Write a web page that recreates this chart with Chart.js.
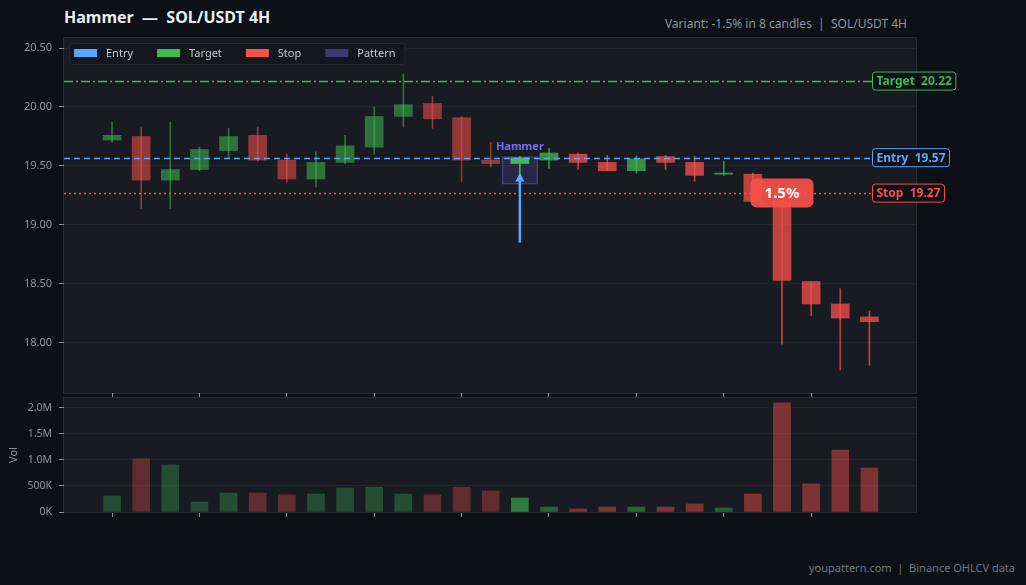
<!DOCTYPE html>
<html>
<head>
<meta charset="utf-8">
<script src="https://cdn.jsdelivr.net/npm/chart.js@4.4.1/dist/chart.umd.min.js"></script>
<style>
  html, body { margin: 0; padding: 0; background: #0d1017; width: 1026px; height: 585px; overflow: hidden; font-family: "Noto Sans", sans-serif; }
  #title { position: absolute; left: 64px; top: 6px; color: #e6edf3; font-size: 16px; font-weight: 700; white-space: pre; }
  #sub { position: absolute; right: 119px; top: 15px; color: #8b949e; font-size: 12px; white-space: pre; }
  #foot { position: absolute; right: 11px; top: 560px; color: #6e7681; font-size: 11px; white-space: pre; }
  #priceBox { position: absolute; left: 0; top: 0; width: 1026px; height: 398px; }
  #volBox { position: absolute; left: 0; top: 396px; width: 1026px; height: 122px; }
</style>
</head>
<body>
<div id="title">Hammer  —  SOL/USDT 4H</div>
<div id="sub">Variant: -1.5% in 8 candles  |  SOL/USDT 4H</div>
<div id="priceBox"><canvas id="price-chart"></canvas></div>
<div id="volBox"><canvas id="vol-chart"></canvas></div>
<div id="foot">youpattern.com  |  Binance OHLCV data</div>
<script>
// candles (index 0..26)
const opens  = [19.72, 19.75, 19.38, 19.47, 19.63, 19.76, 19.55, 19.39, 19.53, 19.66, 19.92, 20.03, 19.91, 19.55,
                19.52, 19.55, 19.60, 19.53, 19.46, 19.58, 19.53, 19.43, 19.43, 19.20, 18.52, 18.33, 18.22];
const highs  = [19.87, 19.83, 19.87, 19.66, 19.82, 19.83, 19.60, 19.62, 19.76, 20.00, 20.28, 20.09, 19.92, 19.70,
                19.58, 19.65, 19.61, 19.59, 19.585, 19.59, 19.58, 19.54, 19.44, 19.22, 18.52, 18.46, 18.27];
const lows   = [19.70, 19.14, 19.14, 19.46, 19.57, 19.54, 19.36, 19.32, 19.52, 19.60, 19.83, 19.82, 19.37, 19.49,
                19.37, 19.48, 19.47, 19.46, 19.44, 19.47, 19.37, 19.42, 19.19, 17.99, 18.23, 17.77, 17.81];
const closes = [19.76, 19.38, 19.47, 19.64, 19.75, 19.55, 19.39, 19.53, 19.67, 19.92, 20.02, 19.90, 19.55, 19.52,
                19.57, 19.61, 19.53, 19.46, 19.56, 19.53, 19.42, 19.44, 19.20, 18.53, 18.33, 18.21, 18.18];
const volumes = [310000, 1020000, 905000, 190000, 365000, 365000, 330000, 345000, 460000, 480000, 345000, 330000,
                 480000, 405000, 270000, 96000, 58000, 96000, 96000, 96000, 155000, 77000, 345000, 2100000,
                 540000, 1190000, 845000];

const xTicks = [0, 3, 6, 9, 12, 15, 18, 21, 24];
const priceTicks = [18.0, 18.5, 19.0, 19.5, 20.0, 20.5];
const volTicks = [0, 500000, 1000000, 1500000, 2000000];

const entryPrice = 19.57;
const targetPrice = 20.22;
const stopPrice = 19.27;
const patternIndex = 14;
const patternName = "Hammer";
const patternRange = [19.345, 19.58];
const arrowRange = [18.85, 19.445];
const badgeIndex = 23;
const badgeText = "1.5%";

const GREEN = [63, 185, 80];
const RED = [248, 81, 73];
const BLUE = "#58a6ff";
const FONT = '"Noto Sans", sans-serif';

function rgba(c, a) {
  return `rgba(${c[0]},${c[1]},${c[2]},${a})`;
}

function candleColor(i) {
  const base = closes[i] >= opens[i] ? GREEN : RED;
  if (i === patternIndex) return rgba(base, 1);
  return rgba(base, i < patternIndex ? 0.55 : 0.75);
}

function volColor(i) {
  const base = closes[i] >= opens[i] ? GREEN : RED;
  if (i === patternIndex) return rgba(base, 0.6);
  return rgba(base, i < patternIndex ? 0.32 : 0.45);
}

const idx = opens.map((_, i) => i);
const bodyData = idx.map((i) => ({ x: i, y: [opens[i], closes[i]] }));
const wickData = idx.map((i) => ({ x: i, y: [lows[i], highs[i]] }));
const volData = idx.map((i) => ({ x: i, y: volumes[i] }));

function roundRect(ctx, x, y, w, h, r) {
  ctx.beginPath();
  ctx.moveTo(x + r, y);
  ctx.arcTo(x + w, y, x + w, y + h, r);
  ctx.arcTo(x + w, y + h, x, y + h, r);
  ctx.arcTo(x, y + h, x, y, r);
  ctx.arcTo(x, y, x + w, y, r);
  ctx.closePath();
}

// no extra room for edge labels, the plot area is set by padding/afterFit only
function noPad(s) {
  s.paddingTop = 0;
  s.paddingBottom = 0;
  s.paddingLeft = 0;
  s.paddingRight = 0;
}

const panelBg = {
  id: "panelBg",
  beforeDraw(chart) {
    const { ctx, chartArea: a } = chart;
    ctx.save();
    ctx.fillStyle = "#181b22";
    ctx.fillRect(a.left, a.top, a.right - a.left, a.bottom - a.top);
    ctx.strokeStyle = "#262b34";
    ctx.lineWidth = 1;
    ctx.strokeRect(a.left - 0.5, a.top - 0.5, a.right - a.left + 1, a.bottom - a.top + 1);
    ctx.restore();
  },
};

const levelsPlugin = {
  id: "levels",
  afterDatasetsDraw(chart) {
    const { ctx, chartArea: a } = chart;
    const x = chart.scales.x;
    const y = chart.scales.y;
    const labelX = a.right - 44;

    const levels = [
      { name: "Target", price: targetPrice, color: rgba(GREEN, 1), dash: [9, 3, 2, 3] },
      { name: "Entry", price: entryPrice, color: BLUE, dash: [6, 4] },
      { name: "Stop", price: stopPrice, color: rgba(RED, 1), dash: [2, 3] },
    ];

    ctx.save();
    levels.forEach((lv) => {
      const py = Math.round(y.getPixelForValue(lv.price)) + 0.5;
      ctx.strokeStyle = lv.color;
      ctx.lineWidth = 1.6;
      ctx.setLineDash(lv.dash);
      ctx.beginPath();
      ctx.moveTo(a.left, py);
      ctx.lineTo(labelX, py);
      ctx.stroke();
    });
    ctx.setLineDash([]);

    // arrow under the pattern
    const ax = x.getPixelForValue(patternIndex);
    const tail = y.getPixelForValue(arrowRange[0]);
    const tip = y.getPixelForValue(arrowRange[1]);
    ctx.strokeStyle = BLUE;
    ctx.fillStyle = BLUE;
    ctx.lineWidth = 2.5;
    ctx.beginPath();
    ctx.moveTo(ax, tail);
    ctx.lineTo(ax, tip + 8);
    ctx.stroke();
    ctx.beginPath();
    ctx.moveTo(ax, tip);
    ctx.lineTo(ax - 4.5, tip + 9);
    ctx.lineTo(ax + 4.5, tip + 9);
    ctx.closePath();
    ctx.fill();

    // pattern name
    ctx.fillStyle = "#7b6cf0";
    ctx.font = `bold 11px ${FONT}`;
    ctx.textAlign = "center";
    ctx.textBaseline = "alphabetic";
    ctx.fillText(patternName, ax, y.getPixelForValue(patternRange[1]) - 7);

    // level tags on the right
    levels.forEach((lv) => {
      const py = y.getPixelForValue(lv.price);
      const txt = `${lv.name}  ${lv.price.toFixed(2)}`;
      ctx.font = `bold 12px ${FONT}`;
      const tw = ctx.measureText(txt).width;
      roundRect(ctx, labelX + 0.5, py - 9, tw + 8, 18, 3);
      ctx.fillStyle = "#0d1017";
      ctx.fill();
      ctx.strokeStyle = lv.color;
      ctx.lineWidth = 1;
      ctx.stroke();
      ctx.fillStyle = lv.color;
      ctx.textAlign = "left";
      ctx.textBaseline = "middle";
      ctx.fillText(txt, labelX + 4.5, py + 0.5);
    });

    // move badge
    const bx = x.getPixelForValue(badgeIndex);
    const by = y.getPixelForValue(stopPrice);
    ctx.font = `bold 15px ${FONT}`;
    const bw = ctx.measureText(badgeText).width + 28;
    roundRect(ctx, bx - bw / 2, by - 14.5, bw, 29, 6);
    ctx.fillStyle = rgba(RED, 0.93);
    ctx.fill();
    ctx.fillStyle = "#ffffff";
    ctx.textAlign = "center";
    ctx.textBaseline = "middle";
    ctx.fillText(badgeText, bx, by + 0.5);

    // legend
    const items = [
      ["Entry", BLUE],
      ["Target", rgba(GREEN, 1)],
      ["Stop", rgba(RED, 1)],
      ["Pattern", "#3d3a7a"],
    ];
    ctx.font = `11px ${FONT}`;
    let lx = a.left + 10;
    const widths = items.map((it) => ctx.measureText(it[0]).width);
    const total = widths.reduce((s, w) => s + w + 32, 0) + 24 * (items.length - 1);
    roundRect(ctx, a.left + 5.5, a.top + 5.5, total + 14, 21, 3);
    ctx.fillStyle = "#14171e";
    ctx.fill();
    ctx.strokeStyle = "#232831";
    ctx.stroke();
    items.forEach((it, k) => {
      ctx.fillStyle = it[1];
      ctx.fillRect(lx, a.top + 11, 23, 8);
      ctx.fillStyle = "#c0c8d0";
      ctx.textAlign = "left";
      ctx.textBaseline = "middle";
      ctx.fillText(it[0], lx + 32, a.top + 15.5);
      lx += 32 + widths[k] + 24;
    });
    ctx.restore();
  },
};

const tickFont = { family: FONT, size: 11 };

const priceChart = new Chart(document.getElementById("price-chart").getContext("2d"), {
  type: "bar",
  data: {
    datasets: [
      {
        label: "Pattern",
        data: [{ x: patternIndex, y: patternRange }],
        backgroundColor: "rgba(110,100,240,0.17)",
        borderColor: "rgba(120,110,240,0.4)",
        borderWidth: 1,
        borderSkipped: false,
        barThickness: 36,
        grouped: false,
        order: 3,
      },
      {
        label: "Wick",
        data: wickData,
        backgroundColor: idx.map(candleColor),
        barThickness: 1,
        grouped: false,
        order: 2,
      },
      {
        label: "Body",
        data: bodyData,
        backgroundColor: idx.map(candleColor),
        barThickness: 18,
        minBarLength: 1,
        grouped: false,
        order: 1,
      },
    ],
  },
  options: {
    responsive: true,
    maintainAspectRatio: false,
    animation: false,
    events: [],
    layout: { padding: { top: 38, right: 110, left: 0, bottom: 0 } },
    plugins: { legend: { display: false }, tooltip: { enabled: false } },
    scales: {
      x: {
        type: "linear",
        offset: false,
        min: -1.65,
        max: 27.6,
        border: { display: false },
        grid: { offset: false, drawOnChartArea: false, drawTicks: true, tickLength: 4, tickColor: "#8b949e" },
        ticks: { display: false },
        afterBuildTicks: (s) => { s.ticks = xTicks.map((v) => ({ value: v })); },
        afterFit: (s) => { s.height = 5; noPad(s); },
      },
      y: {
        min: 17.575,
        max: 20.585,
        border: { display: false },
        grid: { color: "#21262e", tickColor: "#8b949e", tickLength: 5 },
        ticks: { color: "#8b949e", font: tickFont, padding: 7, callback: (v) => Number(v).toFixed(2) },
        afterBuildTicks: (s) => { s.ticks = priceTicks.map((v) => ({ value: v })); },
        afterFit: (s) => { s.width = 64; noPad(s); },
      },
    },
  },
  plugins: [panelBg, levelsPlugin],
});

function volLabel(v) {
  if (v >= 1000000) return (v / 1000000).toFixed(1) + "M";
  return (v / 1000).toFixed(0) + "K";
}

const volChart = new Chart(document.getElementById("vol-chart").getContext("2d"), {
  type: "bar",
  data: {
    datasets: [
      {
        label: "Volume",
        data: volData,
        backgroundColor: idx.map(volColor),
        barThickness: 17,
      },
    ],
  },
  options: {
    responsive: true,
    maintainAspectRatio: false,
    animation: false,
    events: [],
    layout: { padding: { top: 2, right: 110, left: 0, bottom: 0 } },
    plugins: { legend: { display: false }, tooltip: { enabled: false } },
    scales: {
      x: {
        type: "linear",
        offset: false,
        min: -1.65,
        max: 27.6,
        border: { display: false },
        grid: { offset: false, drawOnChartArea: false, drawTicks: true, tickLength: 5, tickColor: "#8b949e" },
        ticks: { display: false },
        afterBuildTicks: (s) => { s.ticks = xTicks.map((v) => ({ value: v })); },
        afterFit: (s) => { s.height = 6; noPad(s); },
      },
      y: {
        min: 0,
        max: 2192000,
        border: { display: false },
        grid: { color: "#21262e", tickColor: "#8b949e", tickLength: 5 },
        title: { display: true, text: "Vol", color: "#8b949e", font: { family: FONT, size: 11 }, padding: { top: 7, bottom: 0 } },
        ticks: { color: "#8b949e", font: { family: FONT, size: 10.5 }, padding: 7, callback: (v) => volLabel(v) },
        afterBuildTicks: (s) => { s.ticks = volTicks.map((v) => ({ value: v })); },
        afterFit: (s) => { s.width = 64; noPad(s); },
      },
    },
  },
  plugins: [panelBg],
});
</script>
</body>
</html>
